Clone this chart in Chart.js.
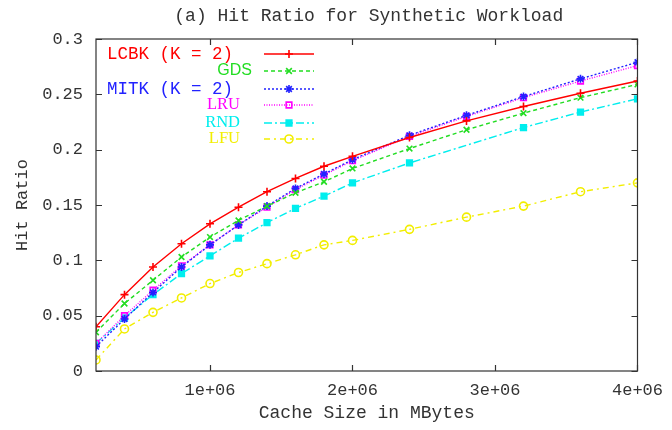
<!DOCTYPE html>
<html>
<head>
<meta charset="utf-8">
<script src="https://cdn.jsdelivr.net/npm/chart.js@4"></script>
<style>
  html, body { margin: 0; padding: 0; background: #fff; }
  #wrap { width: 672px; height: 430px; }
</style>
</head>
<body>
<div id="wrap"><canvas id="hitChart" width="672" height="430"></canvas></div>
<script>
// cache sizes (x) and hit ratios per policy
const cacheSizes = [200000, 400000, 600000, 800000, 1000000, 1200000, 1400000, 1600000,
                    1800000, 2000000, 2400000, 2800000, 3200000, 3600000, 4000000];
const lcbk = [0.040, 0.069, 0.094, 0.115, 0.133, 0.148, 0.162, 0.174, 0.185, 0.194, 0.211, 0.226, 0.239, 0.251, 0.262];
const gds  = [0.035, 0.061, 0.082, 0.103, 0.121, 0.136, 0.149, 0.161, 0.171, 0.183, 0.201, 0.218, 0.233, 0.247, 0.259];
const mitk = [0.022, 0.047, 0.071, 0.094, 0.114, 0.132, 0.149, 0.165, 0.178, 0.191, 0.213, 0.231, 0.248, 0.264, 0.279];
const lru  = [0.025, 0.050, 0.073, 0.095, 0.114, 0.132, 0.148, 0.164, 0.177, 0.190, 0.212, 0.230, 0.247, 0.262, 0.276];
const rnd  = [0.025, 0.048, 0.069, 0.088, 0.104, 0.120, 0.134, 0.147, 0.158, 0.170, 0.188, null,  0.220, 0.234, 0.246];
const lfu  = [0.010, 0.038, 0.053, 0.066, 0.079, 0.089, 0.097, 0.105, 0.114, 0.118, 0.128, 0.139, 0.149, 0.162, 0.170];

const xTicks = [1000000, 2000000, 3000000, 4000000];
const yTicks = [0, 0.05, 0.1, 0.15, 0.2, 0.25, 0.3];

const MONO = '"Liberation Mono", "DejaVu Sans Mono", monospace';
const SERIF = '"Liberation Serif", "Times New Roman", serif';
const TEXT = '#333';

function pts(vals) {
    return vals.map((v, i) => ({ x: cacheSizes[i], y: v }));
}

function series(label, vals, color, dash, style, fill, font, align) {
    return {
        label: label,
        data: pts(vals),
        borderColor: color,
        backgroundColor: fill ? color : 'rgba(0,0,0,0)',
        borderWidth: 1.4,
        borderDash: dash,
        pointStyle: style,
        pointRadius: 4,
        pointBorderWidth: 1.6,
        pointBorderColor: color,
        pointBackgroundColor: fill ? color : 'rgba(0,0,0,0)',
        spanGaps: true,
        tension: 0,
        legendFont: font,
        legendAlign: align
    };
}

// gnuplot style frame, inward ticks, title and key
const gnuplotLook = {
    id: 'gnuplotLook',
    afterDatasetsDraw(chart) {
        const ctx = chart.ctx;
        const a = chart.chartArea;
        const xs = chart.scales.x, ys = chart.scales.y;
        ctx.save();
        ctx.strokeStyle = '#333';
        ctx.lineWidth = 1.2;
        ctx.setLineDash([]);
        ctx.strokeRect(a.left, a.top, a.right - a.left, a.bottom - a.top);
        ctx.beginPath();
        yTicks.forEach(v => {
            const y = Math.round(ys.getPixelForValue(v)) + 0.5;
            ctx.moveTo(a.left, y); ctx.lineTo(a.left + 6, y);
            ctx.moveTo(a.right, y); ctx.lineTo(a.right - 6, y);
        });
        xTicks.forEach(v => {
            const x = Math.round(xs.getPixelForValue(v)) + 0.5;
            ctx.moveTo(x, a.bottom); ctx.lineTo(x, a.bottom - 6);
            ctx.moveTo(x, a.top); ctx.lineTo(x, a.top + 6);
        });
        ctx.stroke();

        // title
        ctx.fillStyle = TEXT;
        ctx.font = '18px ' + MONO;
        ctx.textAlign = 'center';
        ctx.textBaseline = 'middle';
        ctx.fillText('(a) Hit Ratio for Synthetic Workload', (a.left + a.right) / 2 + 2, 16);

        // key
        const rows = [54, 71, 89, 105, 123, 139];
        chart.data.datasets.forEach((ds, i) => {
            const y = rows[i];
            ctx.font = ds.legendFont;
            ctx.fillStyle = ds.borderColor;
            if (ds.legendAlign === 'left') {
                ctx.textAlign = 'left';
                ctx.fillText(ds.label, 107, y);
            } else {
                ctx.textAlign = 'right';
                ctx.fillText(ds.label, ds.legendAlign, y);
            }
            ctx.strokeStyle = ds.borderColor;
            ctx.lineWidth = ds.borderWidth;
            ctx.setLineDash(ds.borderDash);
            ctx.beginPath();
            ctx.moveTo(264, y); ctx.lineTo(314, y);
            ctx.stroke();
            ctx.setLineDash([]);
            ctx.lineWidth = ds.pointBorderWidth;
            ctx.fillStyle = ds.pointBackgroundColor;
            Chart.helpers.drawPoint(ctx, { pointStyle: ds.pointStyle, radius: 4, borderWidth: ds.pointBorderWidth }, 289, y);
        });
        ctx.restore();
    }
};

const ctx = document.getElementById('hitChart').getContext('2d');
const hitChart = new Chart(ctx, {
    type: 'line',
    data: {
        datasets: [
            series('LCBK (K = 2)', lcbk, '#ff0000', [], 'cross', false, '17.5px ' + MONO, 'left'),
            series('GDS', gds, '#22dd22', [4, 3], 'crossRot', false, '16px "Liberation Sans", Arial, sans-serif', 252),
            series('MITK (K = 2)', mitk, '#2222ff', [2, 2], 'star', false, '17.5px ' + MONO, 'left'),
            series('LRU', lru, '#ff00ff', [1, 1.5], 'rect', false, '16.5px ' + SERIF, 240),
            series('RND', rnd, '#00eeee', [8, 3, 2, 3], 'rect', true, '16.5px ' + SERIF, 240),
            series('LFU', lfu, '#f2ee00', [6, 4, 2, 4], 'circle', false, '16.5px ' + SERIF, 240)
        ]
    },
    options: {
        responsive: false,
        animation: false,
        layout: { padding: { top: 39, right: 30, left: 0, bottom: 0 } },
        plugins: {
            legend: { display: false },
            title: { display: false },
            tooltip: { enabled: false }
        },
        scales: {
            x: {
                type: 'linear',
                min: 200000,
                max: 4000000,
                afterFit(scale) { scale.height = 59; },
                afterBuildTicks(scale) { scale.ticks = xTicks.map(v => ({ value: v })); },
                grid: { display: false, drawTicks: false },
                border: { display: false },
                ticks: {
                    padding: 9,
                    color: TEXT,
                    font: { family: MONO, size: 17 },
                    maxRotation: 0,
                    callback: v => v.toExponential().replace('e+', 'e+0')
                },
                title: {
                    display: true,
                    text: 'Cache Size in MBytes',
                    color: TEXT,
                    font: { family: MONO, size: 18 },
                    padding: { top: 0, bottom: 6 }
                }
            },
            y: {
                min: 0,
                max: 0.3,
                afterFit(scale) { scale.width = 96; },
                afterBuildTicks(scale) { scale.ticks = yTicks.map(v => ({ value: v })); },
                grid: { display: false, drawTicks: false },
                border: { display: false },
                ticks: {
                    padding: 13,
                    color: TEXT,
                    font: { family: MONO, size: 17 },
                    callback: v => String(parseFloat(v.toFixed(2)))
                },
                title: {
                    display: true,
                    text: 'Hit Ratio',
                    color: TEXT,
                    font: { family: MONO, size: 17 },
                    padding: { top: 12, bottom: 0 }
                }
            }
        }
    },
    plugins: [gnuplotLook]
});
</script>
</body>
</html>
